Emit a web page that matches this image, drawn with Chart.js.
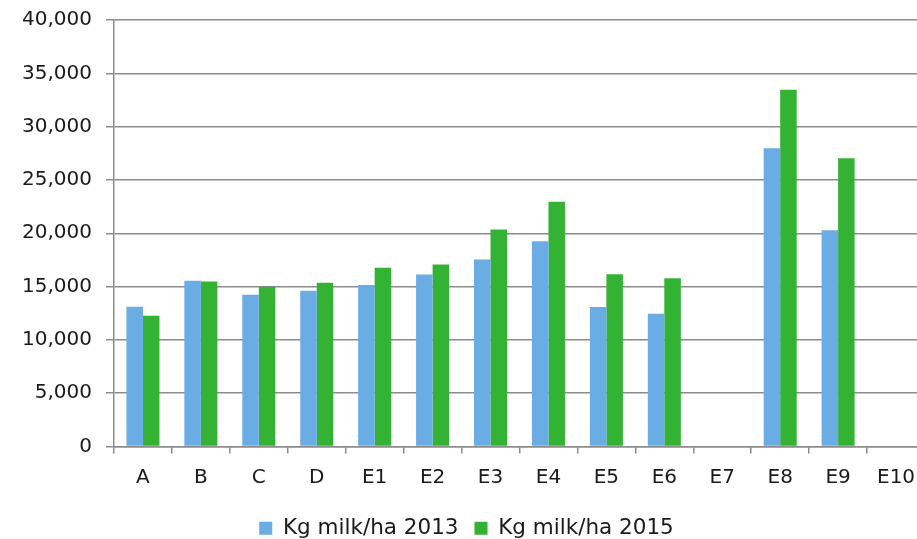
<!DOCTYPE html>
<html>
<head>
<meta charset="utf-8">
<script src="https://cdn.jsdelivr.net/npm/chart.js@4"></script>
<style>
  html, body { margin: 0; padding: 0; background: #fff; overflow: hidden; }
  #wrap { width: 930px; height: 555px; margin-top: -6px; position: relative; }
</style>
</head>
<body>
<div id="wrap"><canvas id="milkChart"></canvas></div>
<script>
const farms = ['A', 'B', 'C', 'D', 'E1', 'E2', 'E3', 'E4', 'E5', 'E6', 'E7', 'E8', 'E9', 'E10'];
const milk2013 = [13100, 15550, 14230, 14610, 15140, 16140, 17540, 19250, 13090, 12440, null, 27970, 20280, null];
const milk2015 = [12270, 15480, 14980, 15360, 16760, 17070, 20350, 22960, 16160, 15780, null, 33460, 27030, null];
const seriesNames = ['Kg milk/ha 2013', 'Kg milk/ha 2015'];
const yMax = 40000;
const yStep = 5000;

const font = { family: 'DejaVu Sans', size: 20 };

const ctx = document.getElementById('milkChart').getContext('2d');
const milkChart = new Chart(ctx, {
    type: 'bar',
    data: {
        labels: farms,
        datasets: [{
            label: seriesNames[0],
            data: milk2013,
            backgroundColor: 'rgb(106, 172, 228)',
            borderWidth: 0
        }, {
            label: seriesNames[1],
            data: milk2015,
            backgroundColor: 'rgb(52, 178, 52)',
            borderWidth: 0
        }]
    },
    options: {
        responsive: true,
        maintainAspectRatio: false,
        animation: false,
        layout: { padding: { left: 8, top: 2, right: 5, bottom: 0 } },
        datasets: {
            bar: { categoryPercentage: 0.57, barPercentage: 1.0 }
        },
        plugins: {
            tooltip: { enabled: false },
            legend: {
                position: 'bottom',
                labels: {
                    font: { family: 'DejaVu Sans', size: 21.5 },
                    color: '#1a1a1a',
                    boxWidth: 13,
                    boxHeight: 13,
                    padding: 16
                }
            }
        },
        scales: {
            x: {
                grid: {
                    display: true,
                    drawOnChartArea: false,
                    drawTicks: true,
                    tickLength: 7,
                    color: '#8c8c8c',
                    lineWidth: 1.5
                },
                border: { color: '#8c8c8c', width: 1.5 },
                ticks: {
                    font: font,
                    color: '#1a1a1a',
                    padding: 12,
                    maxRotation: 0,
                    autoSkip: false
                }
            },
            y: {
                min: 0,
                max: yMax,
                grid: {
                    color: '#8c8c8c',
                    lineWidth: 1.5,
                    tickLength: 8
                },
                border: { color: '#8c8c8c', width: 1.5 },
                ticks: {
                    stepSize: yStep,
                    font: font,
                    color: '#1a1a1a',
                    padding: 14,
                    callback: v => v.toLocaleString('en-US')
                }
            }
        }
    }
});
</script>
</body>
</html>
